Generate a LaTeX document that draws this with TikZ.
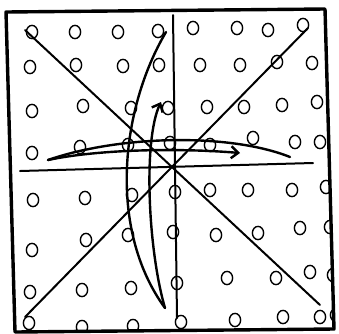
\documentclass[tikz,border=0pt]{standalone}
\usetikzlibrary{arrows.meta}
\begin{document}
\begin{tikzpicture}[x=1pt,y=-1pt,line cap=round,line join=round,
  frame/.style={line width=3.4pt},
  axis/.style={line width=2pt},
  arc/.style={line width=2.4pt},
  dot/.style={line width=1.4pt},
  tip/.style={-{Straight Barb[length=7pt,width=12pt,line width=2.4pt]}}]
\useasboundingbox (0,0) rectangle (339,333);
\fill[white] (0,0) rectangle (339,333);
% corners of the frame
\coordinate (tl) at (6,12);
\coordinate (tr) at (325,9);
\coordinate (br) at (334,329);
\coordinate (bl) at (15,332);
% dots
\begin{scope}
\clip (tl) -- (tr) -- (br) -- (bl) -- cycle;
\foreach \p in {(32,32),(75,32),(118,32),(158,31),(193,28),(237,28),(268,30),(303,25),
(30,67),(76,65),(123,66),(159,65),(200,65),(240,65),(277,62),(312,63),
(32,111),(83,106),(131,108),(168,108),(207,107),(244,107),(282,105),(317,102),
(32,153),(80,147),(128,145),(170,143),(210,145),(253,138),(295,142),(320,142),
(33,200),(85,198),(132,195),(175,192),(210,190),(248,190),(292,190),(326,187),
(32,250),(86,240),(128,235),(173,232),(216,235),(258,233),(300,228),(330,227),
(30,292),(82,290),(131,288),(177,283),(227,278),(276,278),(310,272),(333,275),
(29,323),(82,327),(133,326),(181,322),(235,320),(283,317),(320,317),(336,315)}
  \draw[dot] \p ellipse [x radius=5.6pt, y radius=6.6pt];
\end{scope}
% axes and diagonals
\coordinate (vt) at (173,15);
\coordinate (vb) at (177,318);
\coordinate (hl) at (20,171);
\coordinate (hr) at (313,163);
\coordinate (d1a) at (25,30);
\coordinate (d1b) at (320,305);
\coordinate (d2a) at (308,28);
\coordinate (d2b) at (25,317);
\draw[axis] (vt) -- (vb);
\draw[axis] (hl) -- (hr);
\draw[axis] (d1a) -- (d1b);
\draw[axis] (d2a) -- (d2b);
% vertical curved arrow
\coordinate (va) at (166,32);
\coordinate (vp) at (165,308);
\coordinate (vh) at (161,102);
\draw[arc] (va) .. controls (120,110) and (108,230) .. (vp);
\draw[arc,tip] (vp) .. controls (148,250) and (143,140) .. (vh);
% horizontal curved arrow
\coordinate (hp) at (48,160);
\coordinate (ha) at (290,157);
\coordinate (hh) at (240,153);
\draw[arc] (hp) .. controls (120,135) and (230,133) .. (ha);
\draw[arc,tip] (hp) .. controls (100,149) and (180,148) .. (hh);
% frame
\draw[frame] (tl) -- (tr) -- (br) -- (bl) -- cycle;
\end{tikzpicture}
\end{document}
